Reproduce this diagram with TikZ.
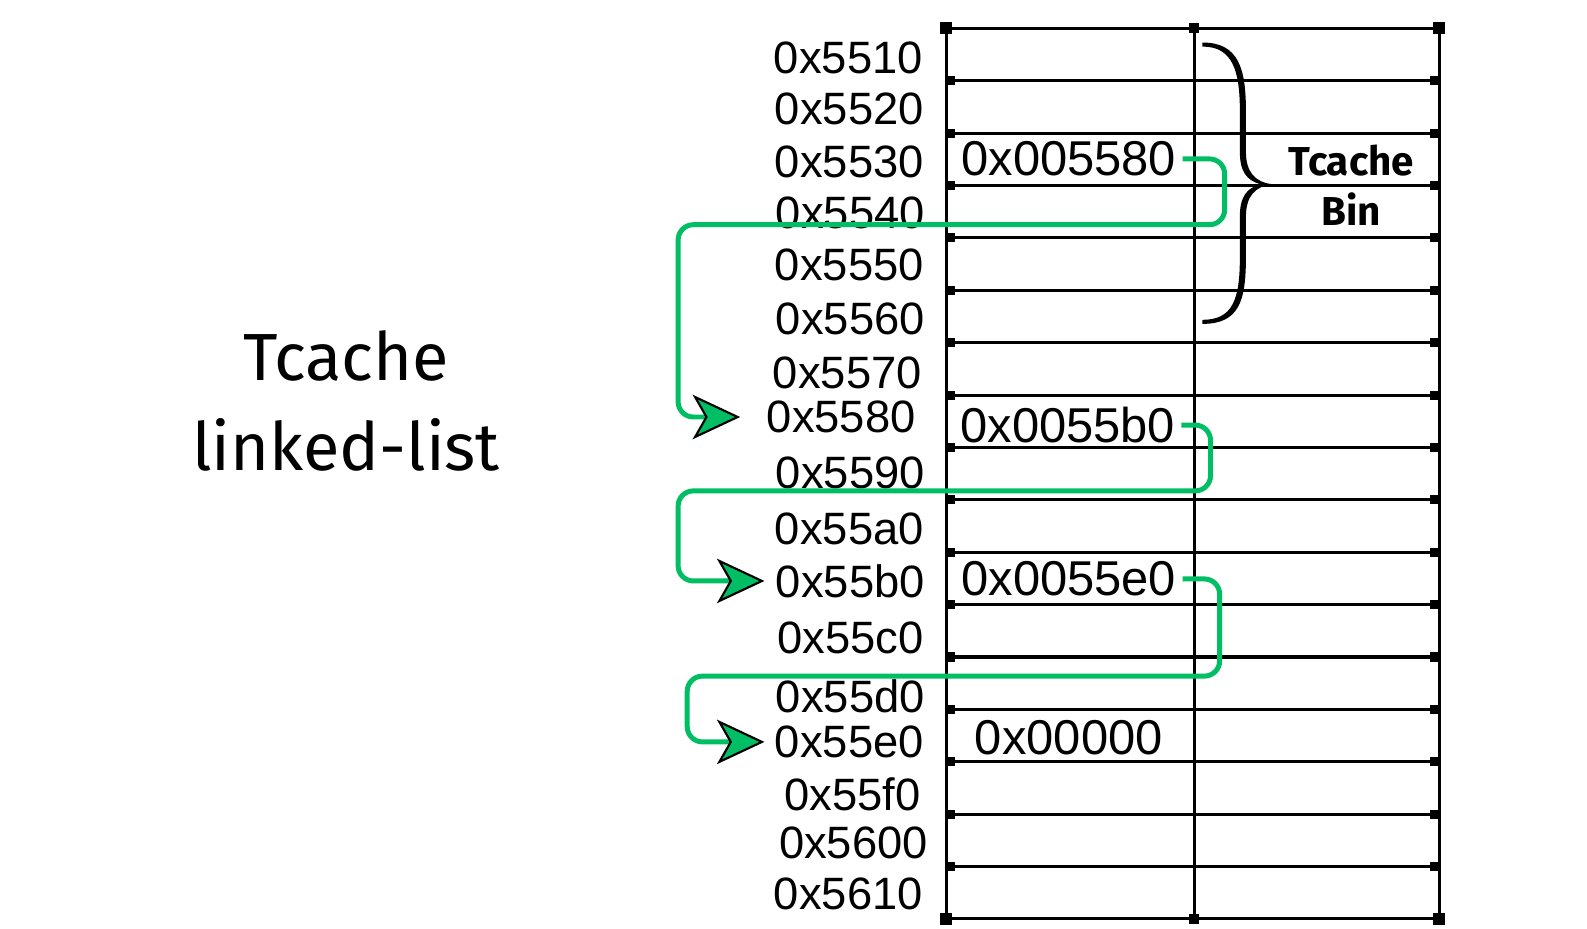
\documentclass[tikz,border=0pt]{standalone}
\usepackage{fontspec}
\setmainfont{Fira Sans}
\newfontfamily\hexfont{Liberation Sans}
\usetikzlibrary{arrows.meta}
\definecolor{linkgreen}{HTML}{00BE64}
\tikzset{
  addr/.style={inner sep=0pt, anchor=east, font=\hexfont\fontsize{25.5}{30}\selectfont},
  val/.style={font=\hexfont\fontsize{27.5}{32}\selectfont},
  gridline/.style={line width=1.7pt},
  link/.style={draw=linkgreen, line width=2.8pt, rounded corners=0.3cm,
    -{Stealth[length=0.94cm, width=0.88cm, inset=0.25cm, fill=linkgreen, color=black, line width=1.2pt]}},
}
\begin{document}
\begin{tikzpicture}[x=0.02cm, y=-0.02cm]
\useasboundingbox (0,0) rectangle (1568,917);
% title
\node[align=center, font=\fontsize{37.5}{51}\selectfont] (title) at (342,396) {Tcache\\linked-list};
% memory table
\foreach \k in {0,...,17}
  \draw[gridline] (935,{28+51.76*\k}) -- (1422,{28+51.76*\k});
\draw[gridline] (935,28) -- (935,908);
\draw[gridline] (1180,28) -- (1180,908);
\draw[gridline] (1422,28) -- (1422,908);
\foreach \k in {1,...,16} {
  \fill (935,{28+51.76*\k-4.5}) rectangle ++(9,9);
  \fill (1422,{28+51.76*\k-4.5}) rectangle ++(-9,9);
}
\foreach \cx in {935,1422}
  \foreach \cy in {28,908}
    \fill (\cx-6,\cy-6) rectangle ++(12,12);
\fill (1175,23) rectangle ++(10,10);
\fill (1175,903) rectangle ++(10,10);
% addresses
\foreach \addr/\x/\y in {5510/912/57, 5520/913/108, 5530/913/160, 5540/914/210,
    5550/913/262, 5560/914/315, 5570/911/368, 5580/905/412, 5590/914/467,
    55a0/913/523, 55b0/914/574, 55c0/913/630, 55d0/914/688, 55e0/913/733,
    55f0/910/785, 5600/917/833, 5610/912/883}
  \node[addr] (a\addr) at (\x,\y) {0x\addr};
% stored pointers
\node[val] (v1) at (1056,157) {0x005580};
\node[val] (v2) at (1055,420) {0x0055b0};
\node[val] (v3) at (1056,572) {0x0055e0};
\node[val] (v4) at (1056,729) {0x00000};
% bin brace
\fill (1188,42) .. controls (1224,42) and (1231,68) .. (1231,110)
  -- (1231,150) .. controls (1231,170) and (1240,180) .. (1257,182)
  .. controls (1240,184) and (1231,194) .. (1231,214) -- (1231,254)
  .. controls (1231,298) and (1224,320) .. (1188,320) -- (1188,316)
  .. controls (1218,316) and (1225,296) .. (1225,254) -- (1225,214)
  .. controls (1225,194) and (1232,186) .. (1245,182)
  .. controls (1232,178) and (1225,170) .. (1225,150) -- (1225,110)
  .. controls (1225,70) and (1218,46) .. (1188,46) -- cycle;
\node[align=center, font=\bfseries\fontsize{22.7}{28}\selectfont] (bin) at (1335,183) {Tcache\\Bin};
% links
\draw[link, shorten >=0.52cm] (v1.east) -| (1210,222) -- (670,222) |- (a5580.west);
\draw[link, shorten >=0.22cm] (v2.east) -| (1196,485) -- (670,485) |- (a55b0.west);
\draw[link, shorten >=0.2cm] (v3.east) -| (1205,668) -- (679,668) |- (a55e0.west);
\end{tikzpicture}
\end{document}
